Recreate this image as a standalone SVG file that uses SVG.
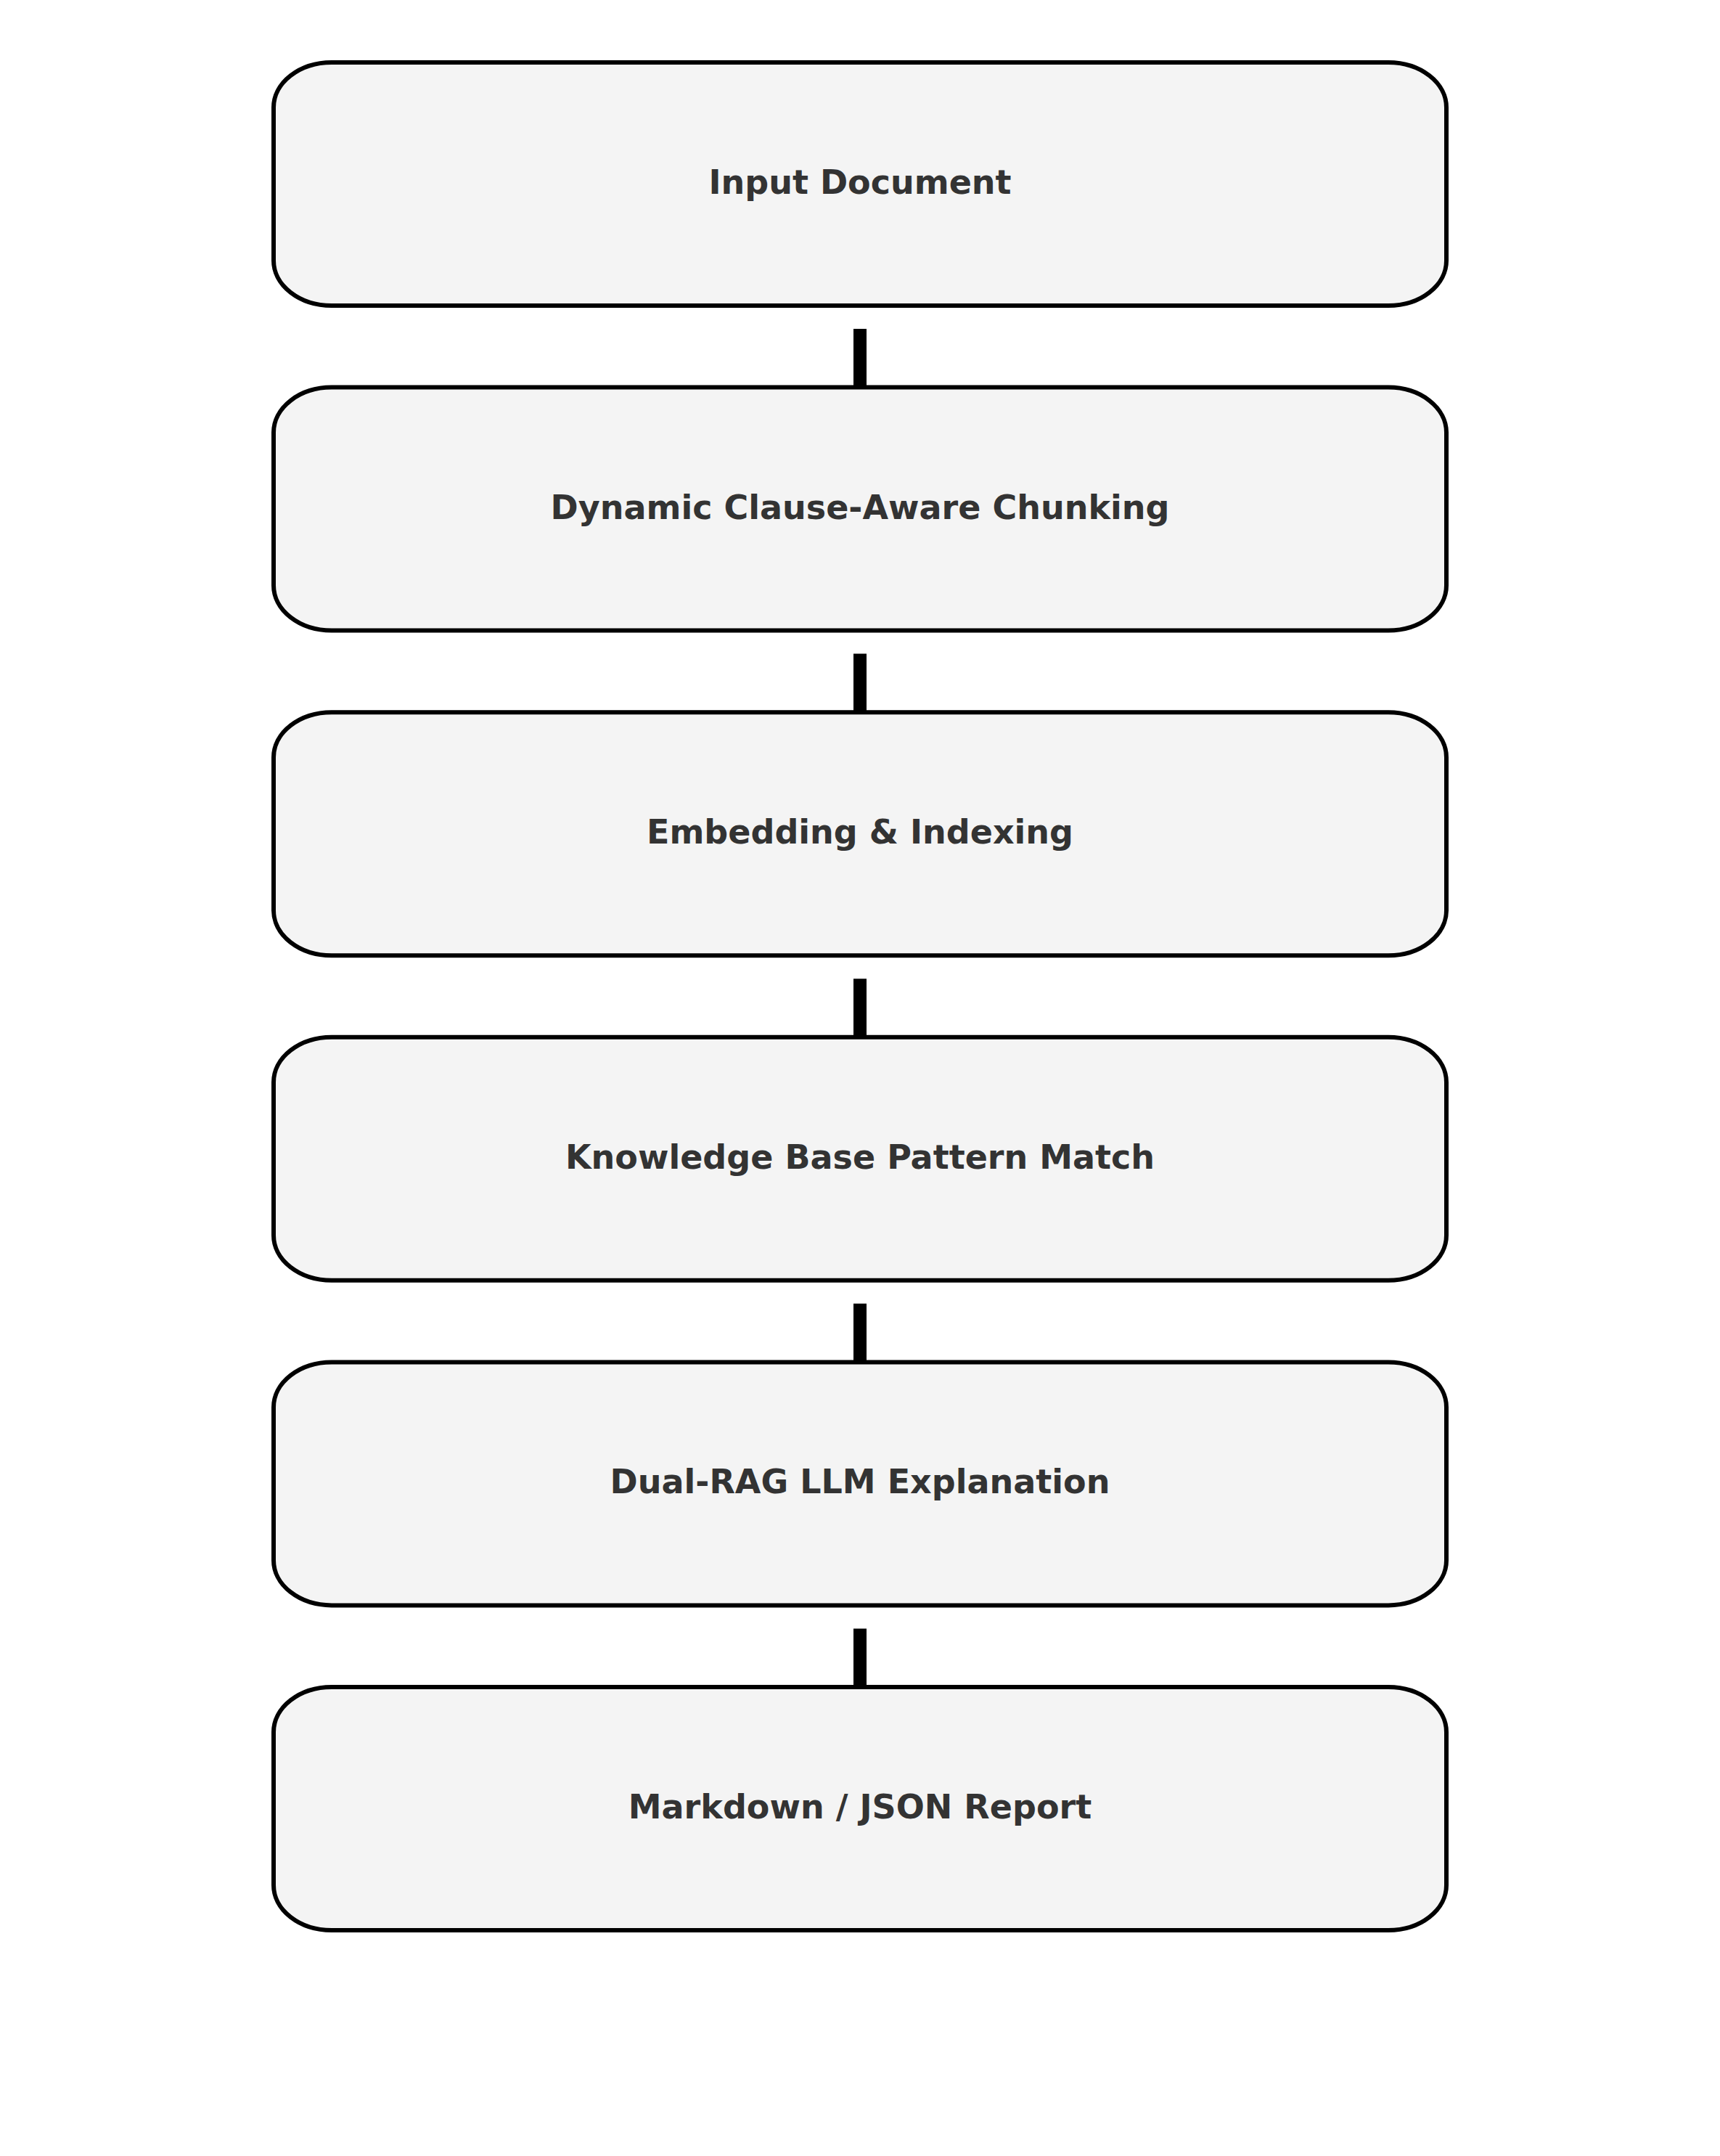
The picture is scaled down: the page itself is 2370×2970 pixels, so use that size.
<svg xmlns="http://www.w3.org/2000/svg" width="2370" height="2970" viewBox="0 0 2370 2970">
<style>
.box{fill:#f4f4f4;stroke:#000;stroke-width:6}
.lbl{font-family:"DejaVu Sans",sans-serif;font-weight:bold;font-size:46px;fill:#333;text-anchor:middle;dominant-baseline:central}
.conn{stroke:#000;stroke-width:18;fill:none}
</style>
<rect width="2370" height="2970" fill="#fff"/>
<g id="connectors">
<line class="conn" x1="1185" y1="453" x2="1185" y2="533.6"/>
<line class="conn" x1="1185" y1="900.6" x2="1185" y2="981.2"/>
<line class="conn" x1="1185" y1="1348.2" x2="1185" y2="1428.8"/>
<line class="conn" x1="1185" y1="1795.8" x2="1185" y2="1876.4"/>
<line class="conn" x1="1185" y1="2243.4" x2="1185" y2="2324"/>
</g>
<g id="node1"><rect class="box" x="377" y="86" width="1616" height="335" rx="80" ry="62"/><text class="lbl" x="1185" y="251">Input Document</text></g>
<g id="node2"><rect class="box" x="377" y="533.6" width="1616" height="335" rx="80" ry="62"/><text class="lbl" x="1185" y="698.6">Dynamic Clause-Aware Chunking</text></g>
<g id="node3"><rect class="box" x="377" y="981.2" width="1616" height="335" rx="80" ry="62"/><text class="lbl" x="1185" y="1146.2">Embedding &amp; Indexing</text></g>
<g id="node4"><rect class="box" x="377" y="1428.8" width="1616" height="335" rx="80" ry="62"/><text class="lbl" x="1185" y="1593.8">Knowledge Base Pattern Match</text></g>
<g id="node5"><rect class="box" x="377" y="1876.4" width="1616" height="335" rx="80" ry="62"/><text class="lbl" x="1185" y="2041.4">Dual-RAG LLM Explanation</text></g>
<g id="node6"><rect class="box" x="377" y="2324" width="1616" height="335" rx="80" ry="62"/><text class="lbl" x="1185" y="2489">Markdown / JSON Report</text></g>
</svg>
